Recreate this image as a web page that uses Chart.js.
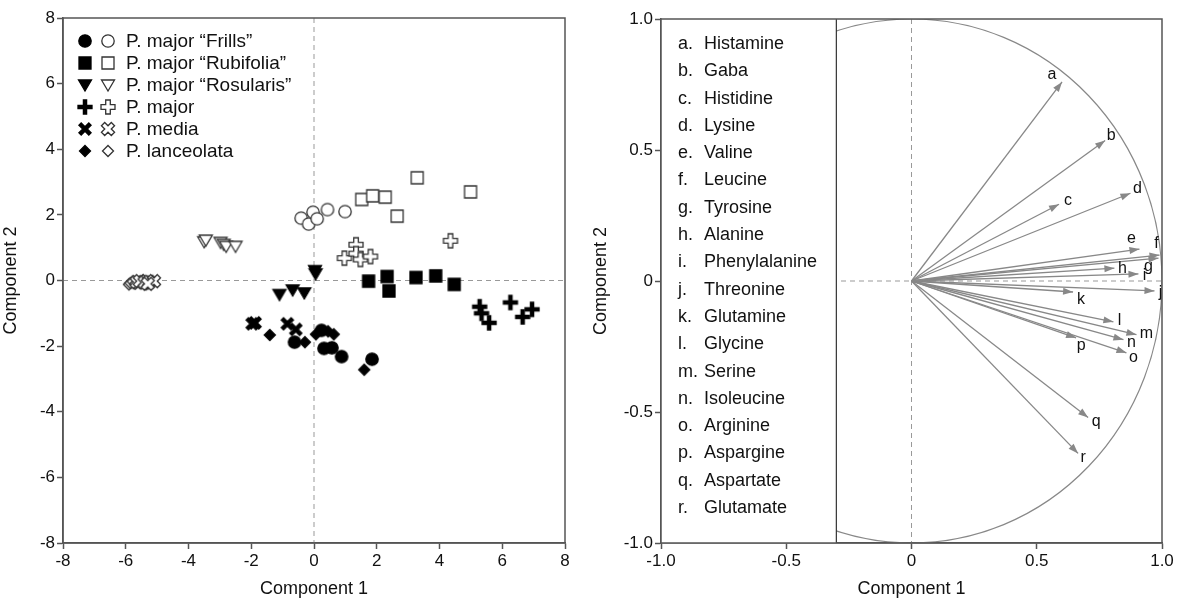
<!DOCTYPE html>
<html>
<head>
<meta charset="utf-8">
<script src="https://cdn.jsdelivr.net/npm/chart.js@4.4.1/dist/chart.umd.min.js"></script>
<style>
  body { margin: 0; background: #fff; }
  #wrap { position: relative; width: 1188px; height: 602px; }
  #left { position: absolute; left: 0; top: 0; width: 590px; height: 602px; }
  #right { position: absolute; left: 590px; top: 0; width: 598px; height: 602px; }
</style>
</head>
<body>
<div id="wrap">
  <div id="left"><canvas id="scoreChart"></canvas></div>
  <div id="right"><canvas id="loadChart"></canvas></div>
</div>
<script>
// score plot data (component 1, component 2)
const frillsFilled = [[-0.62,-1.88],[0.24,-1.52],[0.32,-2.07],[0.57,-2.05],[0.88,-2.32],[1.85,-2.40]];
const frillsOpen = [[-0.41,1.90],[-0.17,1.72],[-0.03,2.08],[0.10,1.88],[0.43,2.16],[0.99,2.10]];
const rubiFilled = [[1.74,-0.02],[2.33,0.12],[2.39,-0.32],[3.25,0.09],[3.88,0.14],[4.47,-0.12]];
const rubiOpen = [[1.52,2.47],[1.87,2.58],[2.27,2.54],[2.65,1.96],[3.29,3.13],[4.99,2.70]];
const rosuFilled = [[0.03,0.30],[0.05,0.20],[-1.10,-0.43],[-0.68,-0.29],[-0.31,-0.38]];
const rosuOpen = [[-3.50,1.18],[-3.45,1.23],[-2.98,1.16],[-2.88,1.10],[-2.80,1.04],[-2.50,1.04]];
const majorFilled = [[5.28,-0.80],[5.34,-1.00],[5.58,-1.29],[6.26,-0.67],[6.65,-1.11],[6.95,-0.88]];
const majorOpen = [[1.34,1.09],[0.97,0.68],[1.34,0.82],[1.48,0.64],[1.80,0.73],[4.35,1.21]];
const mediaFilled = [[-1.97,-1.32],[-1.88,-1.29],[-0.85,-1.32],[-0.58,-1.49]];
const mediaOpen = [[-5.65,-0.05],[-5.55,-0.02],[-5.40,-0.06],[-5.25,-0.04],[-5.10,-0.02],[-5.30,-0.10]];
const lanceFilled = [[-1.41,-1.66],[-0.29,-1.88],[0.06,-1.64],[0.45,-1.55],[0.63,-1.64],[1.60,-2.72]];
const lanceOpen = [[-5.90,-0.12],[-5.85,-0.08],[-5.78,-0.03],[-5.70,-0.10],[-5.45,0.00],[-5.35,-0.12]];
const speciesNames = ['P. major \u201cFrills\u201d', 'P. major \u201cRubifolia\u201d', 'P. major \u201cRosularis\u201d', 'P. major', 'P. media', 'P. lanceolata'];
const scoreTicks = [-8, -6, -4, -2, 0, 2, 4, 6, 8];

// loading plot data
const loadLetters = ['a','b','c','d','e','f','g','h','i','j','k','l','m','n','o','p','q','r'];
const aminoNames = ['Histamine','Gaba','Histidine','Lysine','Valine','Leucine','Tyrosine','Alanine','Phenylalanine','Threonine','Glutamine','Glycine','Serine','Isoleucine','Arginine','Aspargine','Aspartate','Glutamate'];
const loadX = [0.601, 0.773, 0.589, 0.874, 0.910, 0.990, 0.986, 0.810, 0.906, 0.970, 0.645, 0.806, 0.898, 0.846, 0.858, 0.657, 0.705, 0.665];
const loadY = [0.760, 0.536, 0.293, 0.335, 0.122, 0.099, 0.087, 0.049, 0.027, -0.038, -0.042, -0.156, -0.205, -0.224, -0.274, -0.217, -0.521, -0.658];
const loadTicks = [-1, -0.5, 0, 0.5, 1];

const FONT = '"Liberation Sans", Arial, sans-serif';
const INK = '#111';
const FRAME = '#555';

// marker images
function makeMarker(shape, filled) {
  const c = document.createElement('canvas');
  c.width = 18; c.height = 18;
  const g = c.getContext('2d');
  g.lineJoin = 'miter';
  g.fillStyle = filled ? '#000' : '#fff';
  g.strokeStyle = filled ? '#000' : '#333';
  g.lineWidth = 1.3;
  g.beginPath();
  if (shape === 'circle') {
    g.arc(9, 9, 6.2, 0, Math.PI * 2);
  } else if (shape === 'square') {
    g.rect(3, 3, 12, 12);
  } else if (shape === 'tri') {
    g.moveTo(2.5, 4); g.lineTo(15.5, 4); g.lineTo(9, 15); g.closePath();
  } else if (shape === 'diamond') {
    g.moveTo(9, 3.5); g.lineTo(14.5, 9); g.lineTo(9, 14.5); g.lineTo(3.5, 9); g.closePath();
  } else if (shape === 'plus' || shape === 'x') {
    if (shape === 'x') { g.translate(9, 9); g.rotate(Math.PI / 4); g.translate(-9, -9); }
    const a = filled ? 1.6 : 2.3, L = 7;
    g.moveTo(9 - a, 9 - L); g.lineTo(9 + a, 9 - L); g.lineTo(9 + a, 9 - a); g.lineTo(9 + L, 9 - a);
    g.lineTo(9 + L, 9 + a); g.lineTo(9 + a, 9 + a); g.lineTo(9 + a, 9 + L); g.lineTo(9 - a, 9 + L);
    g.lineTo(9 - a, 9 + a); g.lineTo(9 - L, 9 + a); g.lineTo(9 - L, 9 - a); g.lineTo(9 - a, 9 - a); g.closePath();
  }
  g.fill();
  g.stroke();
  return c;
}

const shapes = ['circle', 'square', 'tri', 'plus', 'x', 'diamond'];
const filledSets = [frillsFilled, rubiFilled, rosuFilled, majorFilled, mediaFilled, lanceFilled];
const openSets = [frillsOpen, rubiOpen, rosuOpen, majorOpen, mediaOpen, lanceOpen];
const markersFilled = shapes.map(s => makeMarker(s, true));
const markersOpen = shapes.map(s => makeMarker(s, false));

const toPts = arr => arr.map(p => ({ x: p[0], y: p[1] }));

const scoreDatasets = [];
shapes.forEach((s, i) => {
  scoreDatasets.push({ label: speciesNames[i] + ' open', data: toPts(openSets[i]), pointStyle: markersOpen[i], pointRadius: 6, pointHoverRadius: 6 });
  scoreDatasets.push({ label: speciesNames[i], data: toPts(filledSets[i]), pointStyle: markersFilled[i], pointRadius: 6, pointHoverRadius: 6 });
});

function axisOpts(title, min, max, ticks, fmt, isY, size) {
  return {
    type: 'linear', min: min, max: max,
    afterBuildTicks: sc => { sc.ticks = ticks.map(v => ({ value: v })); },
    afterFit: sc => { if (isY) sc.width = size; else sc.height = size; },
    ticks: { color: INK, font: { family: FONT, size: 17 }, padding: 2, callback: fmt, maxRotation: 0 },
    grid: { drawOnChartArea: false, drawTicks: true, tickLength: 6, tickColor: FRAME, tickWidth: 1.5 },
    border: { color: FRAME, width: 1.5 },
    title: { display: true, text: title, color: INK, font: { family: FONT, size: 18 }, padding: { top: 0, bottom: 2 } }
  };
}

// frame + dashed zero lines
const framePlugin = {
  id: 'frame',
  beforeDatasetsDraw(chart) {
    const { ctx, chartArea: a, scales } = chart;
    const x0 = scales.x.getPixelForValue(0), y0 = scales.y.getPixelForValue(0);
    ctx.save();
    ctx.strokeStyle = '#999'; ctx.lineWidth = 1; ctx.setLineDash([5, 4]);
    ctx.beginPath();
    ctx.moveTo(x0, a.top); ctx.lineTo(x0, a.bottom);
    ctx.moveTo(a.left, y0); ctx.lineTo(a.right, y0);
    ctx.stroke();
    ctx.restore();
  },
  afterDraw(chart) {
    const { ctx, chartArea: a } = chart;
    ctx.save();
    ctx.strokeStyle = FRAME; ctx.lineWidth = 1.5;
    ctx.strokeRect(a.left, a.top, a.right - a.left, a.bottom - a.top);
    ctx.restore();
  }
};

// left legend
const scoreLegend = {
  id: 'scoreLegend',
  afterDatasetsDraw(chart) {
    const ctx = chart.ctx;
    ctx.save();
    ctx.font = '19px ' + FONT;
    ctx.fillStyle = INK;
    ctx.textBaseline = 'middle';
    speciesNames.forEach((name, i) => {
      const y = 41 + i * 22;
      ctx.drawImage(markersFilled[i], 85 - 9, y - 9);
      ctx.drawImage(markersOpen[i], 108 - 9, y - 9);
      ctx.fillText(name, 126, y + 1);
    });
    ctx.restore();
  }
};

new Chart(document.getElementById('scoreChart'), {
  type: 'scatter',
  data: { datasets: scoreDatasets },
  options: {
    responsive: true, maintainAspectRatio: false, animation: false,
    layout: { padding: { left: 0, right: 25, top: 18, bottom: 0 } },
    plugins: { legend: { display: false }, tooltip: { enabled: false } },
    scales: {
      x: axisOpts('Component 1', -8, 8, scoreTicks, v => v, false, 59),
      y: axisOpts('Component 2', -8, 8, scoreTicks, v => v, true, 63)
    }
  },
  plugins: [framePlugin, scoreLegend]
});

// loading plot
const fmtLoad = v => (v === 0 ? '0' : Number(v).toFixed(1));

// label offsets (px) relative to each arrow tip
const labelOffsets = [[-10,-7],[6,-5],[9,-4],[7,-5],[-8,-10],[-3,-11],[-10,8],[8,0],[6,2],[6,2],[8,8],[6,-1],[10,-1],[8,3],[7,5],[5,8],[8,4],[5,4]];

const loadDatasets = loadX.map((x, i) => ({
  label: loadLetters[i],
  data: [{ x: 0, y: 0 }, { x: x, y: loadY[i] }],
  showLine: true, borderColor: '#888', borderWidth: 1.3, pointRadius: 0, pointHoverRadius: 0
}));

// unit circle + key box, drawn under the arrows
const circleKey = {
  id: 'circleKey',
  beforeDatasetsDraw(chart) {
    const { ctx, chartArea: a, scales } = chart;
    const cx = scales.x.getPixelForValue(0), cy = scales.y.getPixelForValue(0);
    const rx = scales.x.getPixelForValue(1) - cx, ry = cy - scales.y.getPixelForValue(1);
    ctx.save();
    ctx.beginPath(); ctx.rect(a.left, a.top, a.right - a.left, a.bottom - a.top); ctx.clip();
    ctx.strokeStyle = '#888'; ctx.lineWidth = 1.2;
    ctx.beginPath(); ctx.ellipse(cx, cy, rx, ry, 0, 0, Math.PI * 2); ctx.stroke();
    const bx = scales.x.getPixelForValue(-0.3);
    ctx.fillStyle = '#fff';
    ctx.fillRect(a.left, a.top, bx - a.left, a.bottom - a.top);
    ctx.strokeStyle = '#333'; ctx.lineWidth = 1.2;
    ctx.beginPath(); ctx.moveTo(bx, a.top); ctx.lineTo(bx, a.bottom); ctx.stroke();
    ctx.font = '18px ' + FONT; ctx.fillStyle = INK; ctx.textBaseline = 'middle';
    aminoNames.forEach((n, i) => {
      const y = 44 + i * 27.3;
      ctx.fillText(loadLetters[i] + '.', 88, y);
      ctx.fillText(n, 114, y);
    });
    ctx.restore();
  }
};

const arrowPlugin = {
  id: 'arrows',
  afterDatasetsDraw(chart) {
    const ctx = chart.ctx;
    ctx.save();
    ctx.font = '16px ' + FONT;
    ctx.textAlign = 'center'; ctx.textBaseline = 'middle';
    chart.data.datasets.forEach((ds, i) => {
      const pts = chart.getDatasetMeta(i).data;
      const p0 = pts[0], p1 = pts[1];
      const ang = Math.atan2(p1.y - p0.y, p1.x - p0.x);
      const L = 10, W = 3.5;
      ctx.fillStyle = '#888';
      ctx.beginPath();
      ctx.moveTo(p1.x, p1.y);
      ctx.lineTo(p1.x - L * Math.cos(ang) + W * Math.sin(ang), p1.y - L * Math.sin(ang) - W * Math.cos(ang));
      ctx.lineTo(p1.x - L * Math.cos(ang) - W * Math.sin(ang), p1.y - L * Math.sin(ang) + W * Math.cos(ang));
      ctx.closePath(); ctx.fill();
      ctx.fillStyle = INK;
      const off = labelOffsets[i];
      ctx.fillText(ds.label, p1.x + off[0], p1.y + off[1]);
    });
    ctx.restore();
  }
};

new Chart(document.getElementById('loadChart'), {
  type: 'scatter',
  data: { datasets: loadDatasets },
  options: {
    responsive: true, maintainAspectRatio: false, animation: false,
    layout: { padding: { left: 0, right: 26, top: 19, bottom: 0 } },
    plugins: { legend: { display: false }, tooltip: { enabled: false } },
    scales: {
      x: axisOpts('Component 1', -1, 1, loadTicks, fmtLoad, false, 59),
      y: axisOpts('Component 2', -1, 1, loadTicks, fmtLoad, true, 71)
    }
  },
  plugins: [framePlugin, circleKey, arrowPlugin]
});
</script>
</body>
</html>
